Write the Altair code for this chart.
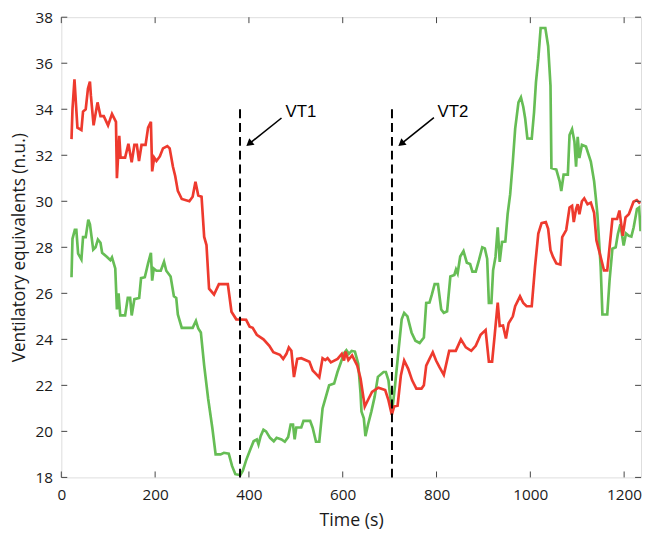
import altair as alt
import pandas as pd

# ---------------- data ----------------
red_t = [21.7, 23.8, 28, 31, 34.3, 42.8, 46.3, 52, 56.8, 61, 63, 68.8, 77.2, 83.5, 90.5, 99.6, 108, 116.5,
         118.5, 123.5, 126.3, 136, 143, 150, 155.8, 161, 165.6, 171, 179.6, 185, 191, 193.7, 198, 202.8,
         210, 216.8, 226, 231, 238, 242.8, 248.4, 256.8, 273, 280, 286, 292, 299, 304.6, 309.5, 315,
         325.6, 336, 355, 362.8, 373, 394, 401.5, 408, 416.8, 431, 443.5, 452, 466, 473, 480, 485, 490.5,
         496, 503, 511.6, 529, 536, 543, 550, 557, 562.8, 567.7, 574.7, 589, 598, 602.8, 606, 612, 620,
         631, 638, 647, 655.4, 662.5, 676, 690.5, 697.5, 704.6, 709.5, 717, 724, 731, 739.6, 748, 757,
         768, 773, 778, 785, 792, 799, 806, 815.5, 827, 841, 852, 862.5, 874, 883.6, 894, 904.6, 911.6,
         918.5, 923.5, 930.5, 934.7, 941.7, 948, 953.7, 962.7, 967.7, 978, 985, 992, 1003, 1010, 1017,
         1024, 1033, 1038, 1043, 1048.4, 1055.4, 1064, 1068, 1076.5, 1083.6, 1089, 1092.6, 1097.5, 1101,
         1104.6, 1110, 1115, 1122, 1129, 1136, 1141, 1150, 1157, 1164, 1175, 1185, 1190, 1197, 1203,
         1210, 1220, 1227, 1234]
red_v = [32.7, 34.0, 35.3, 34.3, 33.2, 33.1, 33.9, 34.0, 34.9, 35.2, 34.6, 33.3, 34.3, 33.7, 33.7, 33.3,
         33.8, 33.45, 31.0, 32.85, 31.9, 31.9, 32.5, 31.7, 32.45, 32.45, 31.75, 32.45, 32.45, 33.2, 33.45,
         31.3, 31.9, 31.75, 31.95, 32.3, 32.4, 32.3, 31.5, 31.1, 30.45, 30.1, 30.0, 30.2, 30.85, 30.25,
         30.2, 28.45, 28.1, 26.2, 25.95, 26.4, 26.4, 25.2, 24.87, 24.85, 24.55, 24.5, 24.2, 24.0, 23.72,
         23.44, 23.33, 23.15, 23.37, 23.65, 23.5, 22.36, 23.15, 23.18, 23.03, 22.65, 22.5, 22.35, 23.18,
         23.1, 23.18, 23.0, 23.15, 23.37, 23.08, 23.47, 23.1, 23.3, 22.86, 22.3, 21.08, 21.43, 21.72,
         21.9, 21.8, 21.36, 20.72, 21.08, 21.12, 22.43, 23.08, 22.72, 22.22, 21.86, 21.86, 22.0, 22.86,
         23.15, 23.44, 23.08, 22.8, 22.46, 23.5, 23.5, 24.0, 23.65, 23.5, 23.72, 24.2, 24.4, 23.03,
         23.03, 24.08, 25.6, 24.58, 24.6, 24.04, 24.7, 25.0, 25.44, 25.87, 25.58, 25.44, 25.44, 27.15,
         28.6, 29.05, 29.1, 28.8, 27.87, 27.58, 27.3, 27.25, 28.44, 28.75, 29.73, 29.8, 29.1, 29.66,
         29.87, 29.44, 30.0, 30.13, 29.87, 29.94, 29.5, 28.3, 27.58, 27.0, 27.0, 29.23, 29.23, 29.6,
         28.5, 29.3, 29.44, 29.98, 30.05, 29.9]

green_t = [21.7, 23.8, 28.8, 32, 35.8, 42.8, 46.3, 52, 57.5, 61, 68, 73, 78, 83.5, 87, 97.5, 104.6, 108,
           115, 118.5, 122, 125.6, 136, 141.7, 146.7, 150, 155.8, 166, 170, 178, 185, 191, 193.7, 197,
           202.8, 212, 219, 223.8, 233, 240, 245, 248.4, 256.8, 280, 287, 292, 297.5, 304.6, 313, 322,
           329, 339.6, 346.7, 357, 364, 371, 381.7, 387, 394, 402.7, 410, 416.8, 420.4, 425, 431, 436.5,
           445, 453, 459, 469.5, 476.5, 483.6, 489, 494, 497.5, 501, 511.6, 516.4, 530.5, 536, 543, 550,
           557, 564, 571, 581.7, 588.8, 595.8, 602.8, 607.8, 613, 619, 626, 633, 638, 640, 645, 648.4,
           654, 661, 668, 675, 687, 692, 697.5, 702.5, 706, 711.6, 718.6, 725.7, 731, 738, 746.7, 755,
           764, 773, 778, 785, 790, 796, 803, 810, 815.5, 822.5, 829.5, 838, 841.5, 845, 850.5, 857.5,
           864.6, 871.6, 876.5, 883.6, 890.5, 897.5, 903, 908, 911.6, 917, 920.6, 925.7, 930.5, 934.7,
           939.6, 946.7, 951.6, 957, 962.7, 967.7, 974.7, 980, 985, 989, 993.7, 1003, 1008, 1012, 1017,
           1022, 1032, 1038, 1043, 1045, 1055.4, 1062.5, 1066, 1071, 1080, 1083.6, 1089, 1094, 1097.5,
           1101, 1104.6, 1110, 1118.6, 1129, 1136, 1139.6, 1143, 1150, 1153.7, 1164, 1169, 1175, 1182,
           1186.7, 1192, 1199, 1204, 1210, 1215.4, 1220.4, 1227.4, 1232, 1235]
green_v = [26.7, 28.37, 28.76, 28.76, 27.73, 27.47, 28.44, 28.44, 29.2, 29.0, 27.9, 28.0, 28.34, 28.2,
           27.76, 27.58, 27.44, 27.56, 27.08, 25.3, 26.0, 25.04, 25.04, 25.8, 25.8, 25.04, 25.75, 25.8,
           26.66, 26.7, 27.3, 27.76, 26.55, 27.08, 26.98, 26.98, 27.37, 26.98, 26.73, 25.87, 25.8, 25.08,
           24.5, 24.5, 24.8, 24.47, 24.3, 22.86, 21.43, 20.15, 19.0, 19.0, 19.07, 19.03, 18.5, 18.14,
           18.1, 18.29, 18.74, 19.2, 19.57, 19.65, 19.43, 19.79, 20.07, 20.0, 19.72, 19.57, 19.72, 19.65,
           19.55, 19.75, 20.3, 20.3, 19.65, 20.17, 20.17, 20.46, 20.46, 20.15, 19.55, 19.55, 21.0, 21.5,
           22.0, 22.08, 22.58, 22.98, 23.4, 23.53, 23.37, 23.5, 23.47, 22.94, 21.65, 20.86, 20.57, 19.79,
           20.3, 20.86, 21.5, 22.37, 22.58, 22.58, 22.22, 21.29, 21.0, 22.0, 23.44, 24.87, 25.15, 25.0,
           24.3, 23.94, 23.84, 24.08, 25.58, 25.6, 25.94, 26.4, 26.4, 25.3, 25.15, 25.22, 26.73, 26.8,
           27.04, 26.87, 27.6, 27.84, 27.33, 27.27, 26.94, 26.94, 27.44, 28.0, 27.95, 27.5, 25.58, 25.58,
           27.0, 27.58, 28.87, 27.37, 28.23, 28.25, 29.44, 30.3, 31.73, 33.16, 34.3, 34.52, 34.1, 33.6,
           32.73, 32.72, 33.88, 35.17, 36.2, 37.53, 37.53, 36.74, 35.03, 31.45, 31.38, 30.87, 30.45,
           31.16, 31.16, 32.88, 33.13, 32.6, 31.5, 32.8, 31.88, 32.45, 32.38, 31.73, 30.87, 30.16, 29.44,
           27.15, 25.08, 25.08, 26.58, 27.94, 28.0, 28.58, 29.0, 28.08, 28.6, 28.5, 28.47, 28.87, 29.66,
           29.73, 28.7]

vt_times = [381, 705]
vt_top = [34.0, 34.0]
vt_bottom = [18, 18]
vt_labels = ["VT1", "VT2"]
label_x = [478, 802]
label_y = [33.67, 33.67]
arrow_x0 = [469.5, 794.4]
arrow_y0 = [33.62, 33.64]
arrow_x1 = [402.4, 726.6]
arrow_y1 = [32.53, 32.53]

x_ticks = [0, 200, 400, 600, 800, 1000, 1200]
y_ticks = [18, 20, 22, 24, 26, 28, 30, 32, 34, 36, 38]
x_domain = [0, 1236]
y_domain = [18, 38]

RED = "#ee3a2e"
GREEN = "#66bd55"
W, H = 587, 466
TICK = 6

# ---------------- tables ----------------
lines_df = pd.concat([
    pd.DataFrame({"t": green_t, "v": green_v, "series": "green"}),
    pd.DataFrame({"t": red_t, "v": red_v, "series": "red"}),
], ignore_index=True)
vt_df = pd.DataFrame({"t": vt_times, "v": vt_top, "v2": vt_bottom, "label": vt_labels,
                      "lx": label_x, "ly": label_y,
                      "ax0": arrow_x0, "ay0": arrow_y0, "ax1": arrow_x1, "ay1": arrow_y1})
xt_df = pd.DataFrame({"t": x_ticks})
yt_df = pd.DataFrame({"v": y_ticks})

xs = alt.Scale(domain=x_domain, nice=False, zero=False)
ys = alt.Scale(domain=y_domain, nice=False, zero=False)

FONT = "Open Sans"
x_axis = alt.Axis(values=x_ticks, title="Time (s)", tickSize=0, domain=False, grid=False,
                  format="d", labelPadding=10, titlePadding=9, labelFontSize=15.5,
                  titleFontSize=18, titleFontWeight="normal", labelFlush=False,
                  labelOverlap=False, labelFont=FONT, titleFont=FONT,
                  labelColor="#1a1a1a", titleColor="#1a1a1a")
y_axis = alt.Axis(values=y_ticks, title="Ventilatory equivalents (n.u.)", tickSize=0,
                  domain=False, grid=False, labelPadding=9, titlePadding=7,
                  labelFontSize=15.5, titleFontSize=17.5, titleFontWeight="normal",
                  labelOverlap=False, labelFont=FONT, titleFont=FONT,
                  labelColor="#1a1a1a", titleColor="#1a1a1a")


def X(field):
    return alt.X(field, type="quantitative", scale=xs, axis=x_axis, title="Time (s)")


def Y(field):
    return alt.Y(field, type="quantitative", scale=ys, axis=y_axis,
                 title="Ventilatory equivalents (n.u.)")


lines = alt.Chart(lines_df).mark_line(strokeWidth=2.7, clip=True).encode(
    x=X("t"),
    y=Y("v"),
    color=alt.Color("series:N", scale=alt.Scale(domain=["green", "red"], range=[GREEN, RED]),
                    legend=None),
    detail="series:N",
    order=alt.Order("t:Q"),
)

vt_rules = alt.Chart(vt_df).mark_rule(color="black", strokeWidth=2, strokeDash=[9, 5]).encode(
    x=X("t"), y=Y("v"), y2="v2:Q",
)

vt_text = alt.Chart(vt_df).mark_text(align="left", baseline="alphabetic", fontSize=17,
                                     font="Liberation Sans", color="black").encode(
    x=X("lx"), y=Y("ly"), text="label:N",
)

arrow_line = alt.Chart(vt_df).mark_rule(color="black", strokeWidth=1.6).encode(
    x=X("ax0"), y=Y("ay0"), x2="ax1:Q", y2="ay1:Q",
)

arrow_head = alt.Chart(vt_df).mark_point(shape="triangle", filled=True, color="black", size=70,
                                         angle=231, opacity=1).encode(
    x=X("ax1"), y=Y("ay1"),
)

tick_style = dict(color="#444", strokeWidth=1)
bottom_ticks = alt.Chart(xt_df).mark_rule(**tick_style).encode(
    x=X("t"), y=alt.value(H), y2=alt.value(H - TICK))
top_ticks = alt.Chart(xt_df).mark_rule(**tick_style).encode(
    x=X("t"), y=alt.value(0), y2=alt.value(TICK))
left_ticks = alt.Chart(yt_df).mark_rule(**tick_style).encode(
    y=Y("v"), x=alt.value(0), x2=alt.value(TICK))
right_ticks = alt.Chart(yt_df).mark_rule(**tick_style).encode(
    y=Y("v"), x=alt.value(W), x2=alt.value(W - TICK))

chart = alt.layer(
    lines, bottom_ticks, top_ticks, left_ticks, right_ticks,
    vt_rules, arrow_line, arrow_head, vt_text,
).properties(
    width=W, height=H,
    autosize=alt.AutoSizeParams(type="none"),
    padding={"top": 6, "left": 54, "right": 1, "bottom": 56},
).configure_view(
    stroke="#444", strokeWidth=1.2,
).configure(background="white")

chart.save("out.html", embed_options={"renderer": "svg", "actions": False})
